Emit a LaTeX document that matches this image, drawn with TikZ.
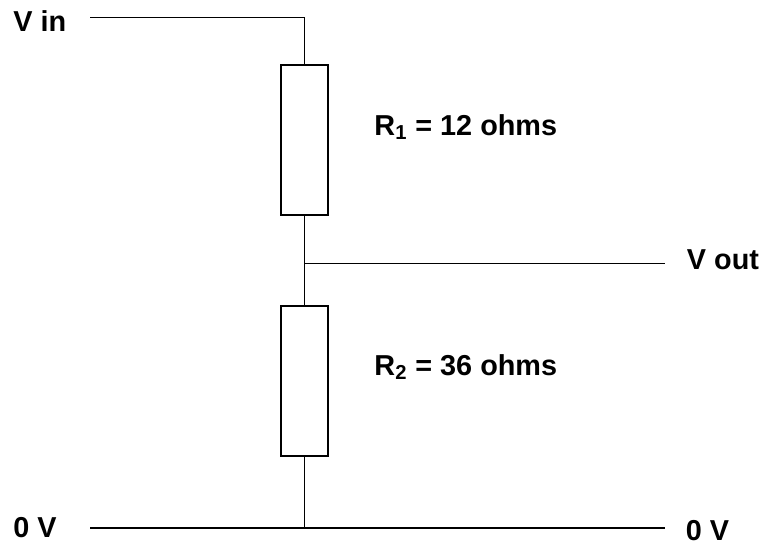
\documentclass[tikz,border=0pt]{standalone}
\usepackage{fontspec}
\setmainfont{Liberation Sans}
\usetikzlibrary{positioning}
\tikzset{every path/.style={black, line width=1.1pt},
  resistor/.style={draw, rectangle, minimum width=0.95cm, minimum height=3cm, inner sep=0pt},
  lbl/.style={font=\bfseries\fontsize{16.4}{18}\selectfont, inner sep=0pt}}

\begin{document}
\begin{tikzpicture}
  \useasboundingbox (0,0) rectangle (15.26,-10.94);
  % resistors
  \node[resistor] (r1) at (6.09,-2.8) {};
  \node[resistor] (r2) at (6.09,-7.62) {};
  % terminals
  \node[lbl, anchor=west] (vin)  at (0.25,-0.43)  {V in};
  \node[lbl, anchor=west] (vout) at (13.72,-5.19) {V out};
  \node[lbl, anchor=west] (gndl) at (0.25,-10.55) {0 V};
  \node[lbl, anchor=west] (gndr) at (13.7,-10.61) {0 V};
  \node[lbl, anchor=base west] (r1lbl) at (7.47,-2.70) {R\textsubscript{1} = 12 ohms};
  \node[lbl, anchor=base west] (r2lbl) at (7.47,-7.50) {R\textsubscript{2} = 36 ohms};
  % wire ends
  \coordinate (vinend)   at (1.8,-0.35);
  \coordinate (top)      at (6.09,-0.35);
  \coordinate (junc)     at (6.09,-5.27);
  \coordinate (voutend)  at (13.3,-5.27);
  \coordinate (gndstart) at (1.8,-10.56);
  \coordinate (gndbot)   at (6.09,-10.56);
  \coordinate (gndend)   at (13.3,-10.56);
  % wires
  \draw (vinend) -- (top) -- (r1.north);
  \draw (r1.south) -- (r2.north);
  \draw (junc) -- (voutend);
  \draw (r2.south) -- (gndbot);
  \draw (gndstart) -- (gndend);
\end{tikzpicture}
\end{document}
